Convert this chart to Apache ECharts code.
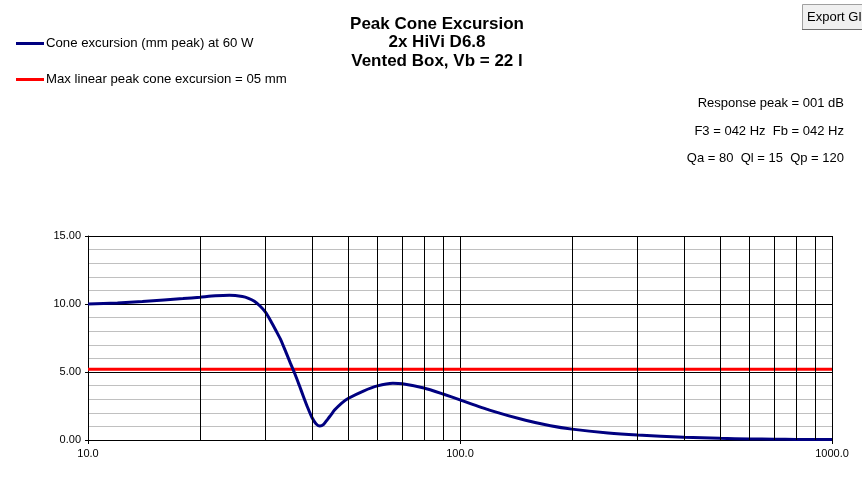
<!DOCTYPE html>
<html>
<head>
<meta charset="utf-8">
<title>Peak Cone Excursion</title>
<script src="https://cdn.jsdelivr.net/npm/echarts@6/dist/echarts.min.js"></script>
<style>
	html, body { margin: 0; padding: 0; background: #fff; }
	#chart { width: 862px; height: 489px; }
</style>
</head>
<body>
<div id="chart"></div>
<script>
// frequency (Hz) and cone excursion (mm peak)
const freqs = [10, 12, 14, 16, 18, 20, 22, 24, 26, 27, 28, 29, 30, 31, 32, 33, 34, 35, 36, 37, 38, 39, 40, 41, 42, 43, 44, 45, 46, 48, 50, 55, 60, 66, 70, 80, 90, 100, 120, 150, 175, 200, 250, 300, 400, 500, 600, 700, 800, 1000]
const excursion = [10.0, 10.08, 10.18, 10.3, 10.4, 10.5, 10.6, 10.64, 10.55, 10.42, 10.2, 9.85, 9.4, 8.75, 8.05, 7.35, 6.5, 5.65, 4.85, 4.0, 3.15, 2.35, 1.65, 1.2, 1.03, 1.15, 1.5, 1.85, 2.2, 2.7, 3.05, 3.6, 3.98, 4.17, 4.13, 3.82, 3.38, 2.95, 2.2, 1.45, 1.05, 0.8, 0.52, 0.37, 0.2, 0.12, 0.08, 0.06, 0.045, 0.03]
const maxLinear = 5.2

// vertical grid lines between decades
const gridFreqs = [20, 30, 40, 50, 60, 70, 80, 90, 200, 300, 400, 500, 600, 700, 800, 900]

const seriesNames = ['Cone excursion (mm peak) at 60 W', 'Max linear peak cone excursion = 05 mm']
const infoLines = ['Response peak = 001 dB', 'F3 = 042 Hz  Fb = 042 Hz', 'Qa = 80  Ql = 15  Qp = 120']
const titleLines = ['Peak Cone Excursion', '2x HiVi D6.8', 'Vented Box, Vb = 22 l']

const font = 'Liberation Sans, Arial, sans-serif'
const myChart = echarts.init(document.getElementById('chart'))

const option = {
	animation: false,
	backgroundColor: '#fff',
	title: {
		text: titleLines.join('\n'),
		left: 437,
		top: 15,
		padding: 0,
		textAlign: 'center',
		textStyle: {
			fontFamily: font,
			fontWeight: 'bold',
			fontSize: 17,
			lineHeight: 18.5,
			color: '#000'
		}
	},
	legend: {
		orient: 'vertical',
		left: 16,
		top: 37,
		padding: 0,
		itemGap: 23,
		itemWidth: 28,
		itemHeight: 3,
		icon: 'rect',
		data: seriesNames,
		textStyle: {
			fontFamily: font,
			fontSize: 13.2,
			color: '#000',
			padding: [0, 0, 0, -3]
		}
	},
	graphic: [
		{
			type: 'rect',
			left: 802,
			top: 4,
			shape: { width: 70, height: 25 },
			style: { fill: '#f0f0f0', stroke: '#a0a0a0', lineWidth: 1 }
		},
		{
			type: 'line',
			shape: { x1: 802, y1: 29.5, x2: 862, y2: 29.5 },
			style: { stroke: '#6d6d6d', lineWidth: 1 }
		},
		{
			type: 'text',
			left: 807,
			top: 11,
			style: { text: 'Export GIF', font: '13px ' + font, fill: '#000' }
		},
		...infoLines.map((t, i) => ({
			type: 'text',
			right: 18,
			top: 97 + i * 27.5,
			style: { text: t, font: '13px ' + font, fill: '#000', textAlign: 'right' }
		}))
	],
	grid: {
		left: 88,
		right: 30,
		top: 236,
		bottom: 49,
		containLabel: false
	},
	xAxis: {
		type: 'log',
		logBase: 10,
		min: 10,
		max: 1000,
		axisLine: { lineStyle: { color: '#000', width: 1 } },
		axisTick: { show: true, length: 4, lineStyle: { color: '#000' } },
		axisLabel: {
			fontFamily: font,
			fontSize: 11,
			color: '#000',
			margin: 8,
			formatter: v => Number(v).toFixed(1)
		},
		splitLine: { show: true, lineStyle: { color: '#000', width: 1 } }
	},
	yAxis: {
		type: 'value',
		min: 0,
		max: 15,
		interval: 5,
		axisLine: { show: true, lineStyle: { color: '#000', width: 1 } },
		axisTick: { show: true, length: 3, lineStyle: { color: '#000' } },
		axisLabel: {
			fontFamily: font,
			fontSize: 11,
			color: '#000',
			margin: 7,
			formatter: v => v.toFixed(2)
		},
		splitLine: { show: true, lineStyle: { color: '#000', width: 1 } },
		minorTick: { show: false, splitNumber: 5 },
		minorSplitLine: { show: true, lineStyle: { color: '#c0c0c0', width: 1 } }
	},
	series: [
		{
			name: seriesNames[0],
			type: 'line',
			data: freqs.map((f, i) => [f, excursion[i]]),
			showSymbol: false,
			smooth: 0.2,
			z: 4,
			lineStyle: { color: '#000080', width: 3 },
			itemStyle: { color: '#000080' },
			markLine: {
				silent: true,
				symbol: 'none',
				label: { show: false },
				lineStyle: { color: '#000', width: 1, type: 'solid' },
				data: gridFreqs.map(f => ({ xAxis: f }))
			}
		},
		{
			name: seriesNames[1],
			type: 'line',
			data: [[10, maxLinear], [1000, maxLinear]],
			showSymbol: false,
			z: 3,
			lineStyle: { color: '#ff0000', width: 3 },
			itemStyle: { color: '#ff0000' }
		}
	]
}

myChart.setOption(option)

window.addEventListener('resize', () => {
	myChart.resize()
})
</script>
</body>
</html>
